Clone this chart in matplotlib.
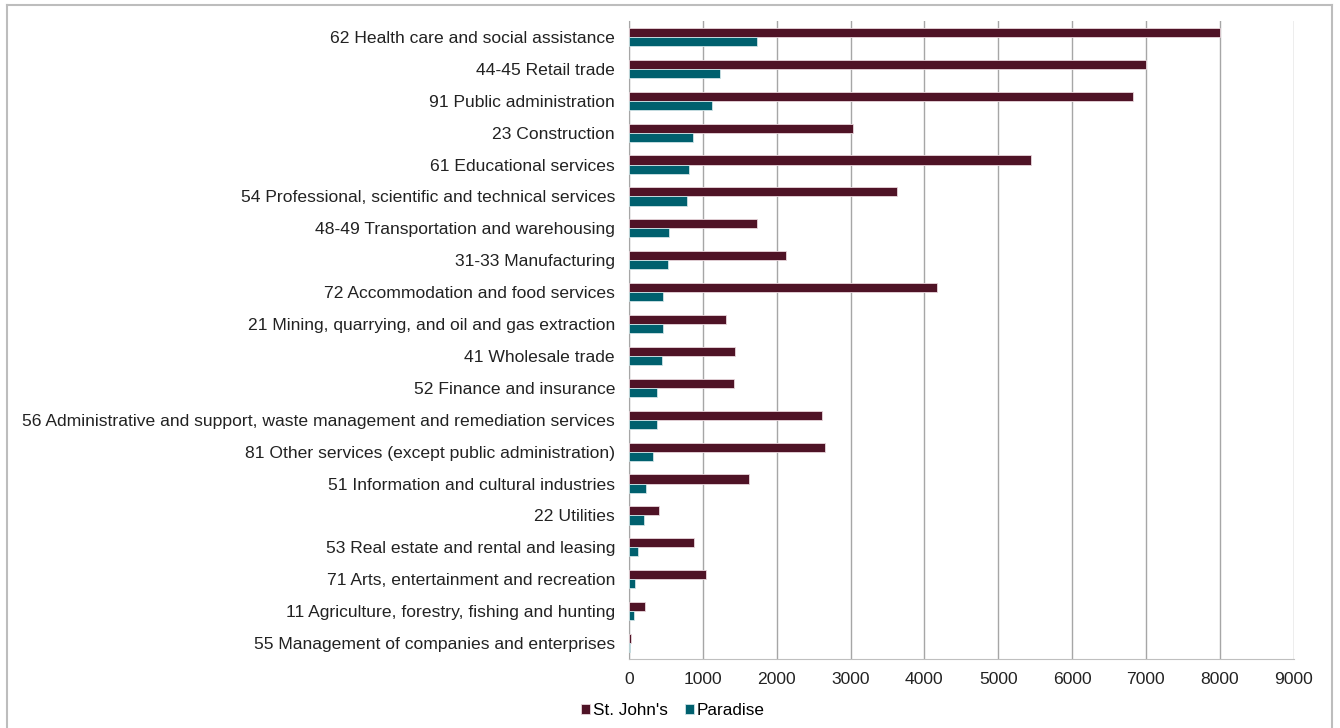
import matplotlib.pyplot as plt
import numpy as np
from matplotlib.lines import Line2D

industries = [
    "62 Health care and social assistance",
    "44-45 Retail trade",
    "91 Public administration",
    "23 Construction",
    "61 Educational services",
    "54 Professional, scientific and technical services",
    "48-49 Transportation and warehousing",
    "31-33 Manufacturing",
    "72 Accommodation and food services",
    "21 Mining, quarrying, and oil and gas extraction",
    "41 Wholesale trade",
    "52 Finance and insurance",
    "56 Administrative and support, waste management and remediation services",
    "81 Other services (except public administration)",
    "51 Information and cultural industries",
    "22 Utilities",
    "53 Real estate and rental and leasing",
    "71 Arts, entertainment and recreation",
    "11 Agriculture, forestry, fishing and hunting",
    "55 Management of companies and enterprises",
]
st_johns = [8000, 7000, 6830, 3030, 5450, 3630, 1730, 2130, 4170, 1315,
            1435, 1425, 2615, 2660, 1620, 400, 875, 1045, 220, 25]
paradise = [1730, 1230, 1125, 865, 815, 785, 540, 530, 460, 460,
            445, 380, 375, 325, 225, 200, 120, 75, 65, 20]
x_ticks = np.arange(0, 10000, 1000)

MAROON = "#4f1326"
TEAL = "#00606e"

plt.rcParams["font.family"] = ["Liberation Sans", "DejaVu Sans"]

fig = plt.figure(figsize=(13.4, 7.28), dpi=100)
ax = fig.add_axes([629 / 1340, 1 - 659 / 728, (1293.5 - 629) / 1340, (659 - 21) / 728])

y = np.arange(len(industries))
h = 0.285
ax.barh(y - h / 2, st_johns, height=h, color=MAROON, edgecolor="#e8d6dc",
        linewidth=0.6, label="St. John's", zorder=3)
ax.barh(y + h / 2, paradise, height=h, color=TEAL, edgecolor="#cfe3e6",
        linewidth=0.6, label="Paradise", zorder=3)

ax.set_ylim(len(industries) - 0.5, -0.5)
ax.set_xlim(0, 9000)
ax.set_xticks(x_ticks)
ax.set_yticks(y)
ax.set_yticklabels(industries)
ax.tick_params(axis="both", length=0, labelsize=12.6, colors="#222222")
ax.tick_params(axis="x", pad=9)
ax.tick_params(axis="y", pad=10)
ax.grid(axis="x", color="#a6a6a6", linewidth=1.0, zorder=0)

for side in ["top", "right"]:
    ax.spines[side].set_visible(False)
ax.spines["left"].set_color("#a6a6a6")
ax.spines["bottom"].set_color("#bfbfbf")

ax.legend(loc="lower center", bbox_to_anchor=(673 / 1340, 0.0),
          bbox_transform=fig.transFigure, ncol=2, frameon=False,
          fontsize=12.3, handlelength=0.5, handleheight=0.5,
          handletextpad=0.2, columnspacing=1.0, borderaxespad=0.2)

# outer chart frame (left, top, right)
frame = dict(color="#bdbdbd", linewidth=1.5, transform=fig.transFigure)
fig.add_artist(Line2D([7 / 1340, 7 / 1340], [0, 1 - 5 / 728], **frame))
fig.add_artist(Line2D([7 / 1340, 1332 / 1340], [1 - 5 / 728, 1 - 5 / 728], **frame))
fig.add_artist(Line2D([1332 / 1340, 1332 / 1340], [0, 1 - 5 / 728], **frame))

fig.savefig("out.png", dpi=100)
